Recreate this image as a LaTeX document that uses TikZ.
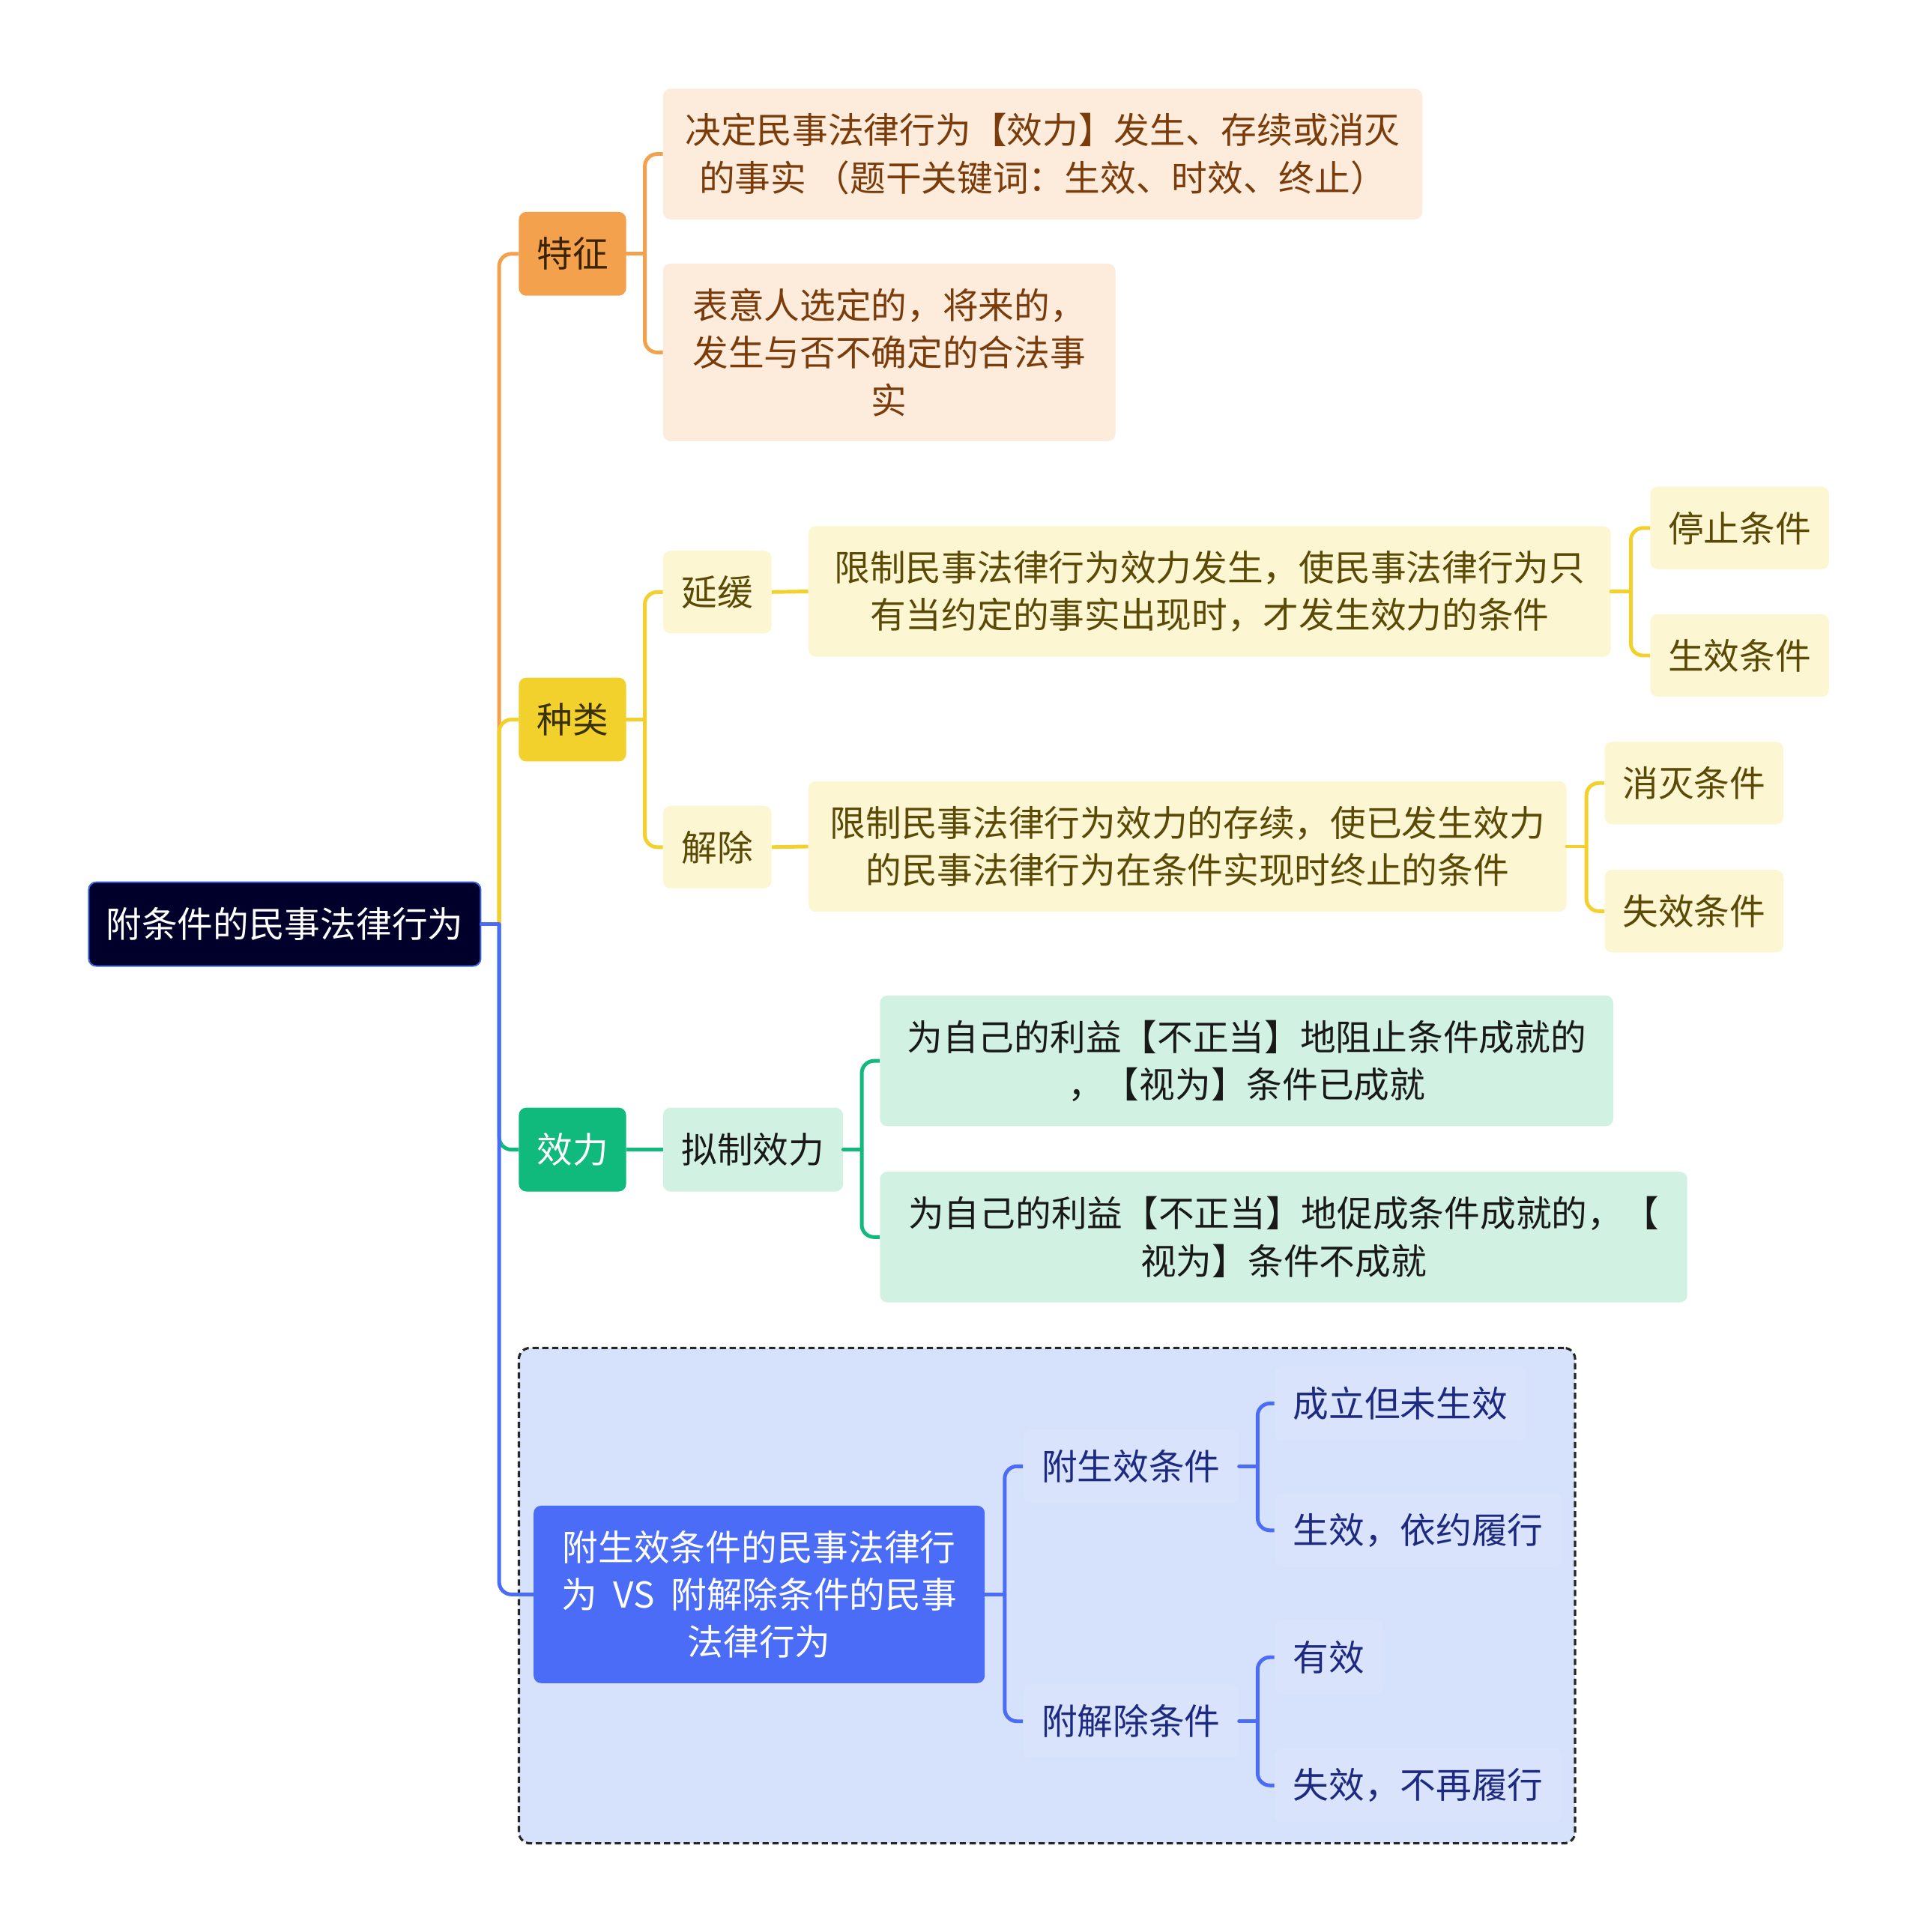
\documentclass[tikz,border=0pt]{standalone}
\usepackage{fontspec}
\setmainfont{Noto Sans CJK SC}
\usetikzlibrary{calc}
\definecolor{rootfill}{HTML}{00002B}
\definecolor{rootline}{HTML}{3D63DD}
\definecolor{orangeC}{HTML}{F4A14D}
\definecolor{peach}{HTML}{FDEBDB}
\definecolor{brownT}{HTML}{7A3C0B}
\definecolor{darkbrown}{HTML}{3B2300}
\definecolor{yellowC}{HTML}{F2D12C}
\definecolor{lightY}{HTML}{FCF6D3}
\definecolor{oliveT}{HTML}{5A4A06}
\definecolor{darkolive}{HTML}{3A3000}
\definecolor{greenC}{HTML}{10B97C}
\definecolor{mint}{HTML}{D1F2E2}
\definecolor{blueC}{HTML}{4B6CF6}
\definecolor{groupfill}{HTML}{D6E2FB}
\definecolor{subtle}{HTML}{D9E3FB}
\definecolor{navyT}{HTML}{1D2A80}
\newcommand\fs{\fontsize{29}{38.5}\selectfont}
\begin{document}
\begin{tikzpicture}[x=1pt,y=-1pt,
  sz/.style 2 args={minimum width=#1, minimum height=#2},
  base/.style={rounded corners=6, inner sep=0pt, align=center, font=\fs},
  rootn/.style={base, fill=rootfill, draw=rootline, line width=1.2pt, text=white},
  orangen/.style={base, fill=orangeC, text=darkbrown},
  peachn/.style={base, fill=peach, text=brownT},
  yellown/.style={base, fill=yellowC, text=darkolive},
  lyn/.style={base, fill=lightY, text=oliveT},
  greenn/.style={base, fill=greenC, text=white},
  mintn/.style={base, fill=mint, text=black!90},
  bluen/.style={base, fill=blueC, text=white},
  subn/.style={base, fill=subtle, text=navyT, inner xsep=15pt, minimum height=60, anchor=west},
  dashbox/.style={draw=black!85, dashed, dash pattern=on 5pt off 3pt, line width=1.9pt, fill=groupfill, rounded corners=9, inner sep=0pt},
  conn/.style={line width=3pt, rounded corners=10},
  cO/.style={conn, draw=orangeC},
  cY/.style={conn, draw=yellowC},
  cG/.style={conn, draw=greenC},
  cB/.style={conn, draw=blueC},
  stub/.style={line cap=round}
]
\useasboundingbox (0,0) rectangle (1556.5,1568);
\fill[white] (0,0) rectangle (1556.5,1568);

% group box
\node[dashbox, sz={857}{402}] (grp) at (849.5,1295) {};

% nodes
\node[rootn, sz={318}{68}] (root) at (231,750) {附条件的民事法律行为};

\node[orangen, sz={87}{68}] (tz) at (464.5,206) {特征};
\node[peachn, sz={616}{106}] (d1) at (846,125) {决定民事法律行为【效力】发生、存续或消灭\\的事实 （题干关键词：生效、时效、终止）};
\node[peachn, sz={367}{144}] (d2) at (721.5,286) {表意人选定的，将来的，\\发生与否不确定的合法事\\实};

\node[yellown, sz={87}{68}] (zl) at (464.5,584) {种类};
\node[lyn, sz={88}{67}] (yh) at (582,480.5) {延缓};
\node[lyn, sz={651}{106}] (yhd) at (981.5,480) {限制民事法律行为效力发生，使民事法律行为只\\有当约定的事实出现时，才发生效力的条件};
\node[lyn, sz={145}{67}] (tz1) at (1411.5,428.5) {停止条件};
\node[lyn, sz={145}{67}] (sx1) at (1411.5,532) {生效条件};
\node[lyn, sz={88}{67}] (jc) at (582,687.5) {解除};
\node[lyn, sz={615}{106}] (jcd) at (963.5,687) {限制民事法律行为效力的存续，使已发生效力\\的民事法律行为在条件实现时终止的条件};
\node[lyn, sz={145}{67}] (xm) at (1374.5,635.5) {消灭条件};
\node[lyn, sz={145}{67}] (sx2) at (1374.5,739.5) {失效条件};

\node[greenn, sz={87}{68}] (xl) at (464.5,933) {效力};
\node[mintn, sz={146}{68}] (nz) at (611,933) {拟制效力};
\node[mintn, sz={595}{106}] (g1) at (1011.5,861) {为自己的利益【不正当】地阻止条件成就的\\，【视为】条件已成就};
\node[mintn, sz={655}{106}] (g2) at (1041.5,1004) {为自己的利益【不正当】地促成条件成就的，【\\视为】条件不成就};

\node[bluen, sz={366}{144}] (vs) at (616,1294) {附生效条件的民事法律行\\为\hspace{0.45em}VS\hspace{0.45em}附解除条件的民事\\法律行为};
\node[subn] (fs) at (830,1190) {附生效条件};
\node[subn] (fj) at (830,1397) {附解除条件};
\node[subn] (l1) at (1034,1139) {成立但未生效};
\node[subn] (l2) at (1034,1242) {生效，依约履行};
\node[subn] (l3) at (1034,1345) {有效};
\node[subn] (l4) at (1034,1449) {失效，不再履行};

% trunk
\coordinate (t0) at (405,750);
\draw[cO] (t0) |- (tz.west);
\draw[cY] (t0) |- (zl.west);
\draw[cG] (t0) |- (xl.west);
\draw[cB] (t0) |- (vs.west);
\draw[cB, stub] (root.east) -- (t0);

% 特征
\coordinate (tzb) at ($(tz.east)+(15,0)$);
\draw[cO] (tzb) |- (d1.west);
\draw[cO] (tzb) |- (d2.west);
\draw[cO, stub] (tz.east) -- (tzb);

% 种类
\coordinate (zlb) at ($(zl.east)+(15,0)$);
\draw[cY] (zlb) |- (yh.west);
\draw[cY] (zlb) |- (jc.west);
\draw[cY, stub] (zl.east) -- (zlb);
\draw[cY] (yh.east) -- (yhd.west);
\draw[cY] (jc.east) -- (jcd.west);
\coordinate (yhb) at ($(yhd.east)+(16,0)$);
\draw[cY] (yhb) |- (tz1.west);
\draw[cY] (yhb) |- (sx1.west);
\draw[cY, stub] (yhd.east) -- (yhb);
\coordinate (jcb) at ($(jcd.east)+(16,0)$);
\draw[cY] (jcb) |- (xm.west);
\draw[cY] (jcb) |- (sx2.west);
\draw[cY, stub] (jcd.east) -- (jcb);

% 效力
\draw[cG] (xl.east) -- (nz.west);
\coordinate (nzb) at ($(nz.east)+(15,0)$);
\draw[cG] (nzb) |- (g1.west);
\draw[cG] (nzb) |- (g2.west);
\draw[cG, stub] (nz.east) -- (nzb);

% group
\coordinate (vsb) at ($(vs.east)+(16,0)$);
\draw[cB] (vsb) |- (fs.west);
\draw[cB] (vsb) |- (fj.west);
\draw[cB, stub] (vs.east) -- (vsb);
\coordinate (fsb) at ($(fs.east)+(15,0)$);
\draw[cB] (fsb) |- (l1.west);
\draw[cB] (fsb) |- (l2.west);
\draw[cB, stub] (fs.east) -- (fsb);
\coordinate (fjb) at ($(fj.east)+(15,0)$);
\draw[cB] (fjb) |- (l3.west);
\draw[cB] (fjb) |- (l4.west);
\draw[cB, stub] (fj.east) -- (fjb);
\end{tikzpicture}
\end{document}
